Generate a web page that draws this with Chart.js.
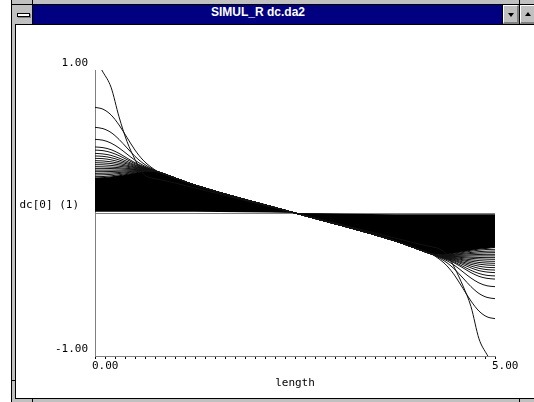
<!DOCTYPE html>
<html><head><meta charset="utf-8">
<script src="https://cdn.jsdelivr.net/npm/chart.js@4"></script>
<style>
html,body{margin:0;padding:0;background:#fff;}
body{width:534px;height:402px;position:relative;overflow:hidden;}
.a{position:absolute;}
</style></head><body>
<!-- window frame -->
<div class="a" style="left:11px;top:-2px;width:600px;height:420px;background:#c0c0c0;border-left:1px solid #000;"></div>
<div class="a" style="left:11px;top:4px;width:600px;height:1px;background:#000"></div>
<div class="a" style="left:32px;top:0;width:1px;height:5px;background:#000"></div>
<div class="a" style="left:519px;top:0;width:1px;height:5px;background:#000"></div>
<div class="a" style="left:11px;top:380px;width:5px;height:1px;background:#000"></div>
<div class="a" style="left:32px;top:398px;width:1px;height:5px;background:#000"></div>
<div class="a" style="left:519px;top:398px;width:1px;height:5px;background:#000"></div>
<!-- client area -->
<div class="a" style="left:15px;top:24px;width:600px;height:375px;box-sizing:border-box;border:1px solid #000;background:#fff"></div>
<!-- control box -->
<div class="a" style="left:32px;top:4px;width:1px;height:21px;background:#000"></div>
<div class="a" style="left:17px;top:13px;width:13px;height:4px;box-sizing:border-box;border:1px solid #000;background:#fff;box-shadow:1px 1px 0 #808080"></div>
<!-- title bar -->
<div class="a" style="left:33px;top:5px;width:469px;height:19px;background:#000080"></div>
<div class="a" style="left:211px;top:5px;height:19px;line-height:19px;color:#fff;font:bold 12px 'Liberation Sans',Arial,sans-serif;white-space:nowrap">SIMUL_R dc.da2</div>
<div class="a" style="left:502px;top:4px;width:1px;height:21px;background:#000"></div>
<div class="a" style="left:503px;top:5px;width:16px;height:19px;box-sizing:border-box;background:#c0c0c0;border-top:1px solid #fff;border-left:1px solid #fff;border-right:2px solid #808080;border-bottom:2px solid #808080"></div>
<div class="a" style="left:508px;top:13px;width:0;height:0;border-left:3px solid transparent;border-right:3px solid transparent;border-top:4px solid #000"></div>
<div class="a" style="left:519px;top:4px;width:1px;height:21px;background:#000"></div>
<div class="a" style="left:520px;top:5px;width:20px;height:19px;box-sizing:border-box;background:#c0c0c0;border-top:1px solid #fff;border-left:1px solid #fff;border-right:2px solid #808080;border-bottom:2px solid #808080"></div>
<div class="a" style="left:525px;top:12px;width:0;height:0;border-left:3px solid transparent;border-right:3px solid transparent;border-bottom:4px solid #000"></div>

<canvas id="c" width="534" height="402" style="position:absolute;left:0;top:0;"></canvas>
<script>
// ---- data ----
const lengths = [0, 0.1, 0.2, 0.3, 0.4, 0.5, 0.6, 0.7, 0.8, 1.0, 1.25, 2.5, 3.75, 4.0, 4.2, 4.3, 4.4, 4.5, 4.6, 4.7, 4.8, 4.9, 5.0];

const steepCurve = [1.08, 0.985, 0.88, 0.673, 0.50, 0.375, 0.275, 0.245, 0.235, 0.21, 0.175, 0, -0.175, -0.21, -0.235, -0.25, -0.29, -0.39, -0.51, -0.655, -0.88, -0.99, -1.08];
const curve01 = [0.739, 0.726, 0.686, 0.616, 0.528, 0.440, 0.370, 0.321, 0.285, 0.245, 0.195, 0, -0.195, -0.245, -0.285, -0.321, -0.370, -0.440, -0.528, -0.616, -0.686, -0.726, -0.739];
const curve02 = [0.599, 0.590, 0.563, 0.515, 0.455, 0.396, 0.348, 0.313, 0.285, 0.245, 0.195, 0, -0.195, -0.245, -0.285, -0.313, -0.348, -0.396, -0.455, -0.515, -0.563, -0.590, -0.599];
const curve03 = [0.515, 0.509, 0.489, 0.455, 0.412, 0.369, 0.334, 0.308, 0.285, 0.245, 0.195, 0, -0.195, -0.245, -0.285, -0.308, -0.334, -0.369, -0.412, -0.455, -0.489, -0.509, -0.515];
const curve04 = [0.462, 0.457, 0.443, 0.417, 0.384, 0.352, 0.326, 0.305, 0.285, 0.245, 0.195, 0, -0.195, -0.245, -0.285, -0.305, -0.326, -0.352, -0.384, -0.417, -0.443, -0.457, -0.462];
const curve05 = [0.440, 0.436, 0.423, 0.401, 0.373, 0.345, 0.322, 0.303, 0.285, 0.245, 0.195, 0, -0.195, -0.245, -0.285, -0.303, -0.322, -0.345, -0.373, -0.401, -0.423, -0.436, -0.440];
const curve06 = [0.417, 0.413, 0.403, 0.384, 0.361, 0.337, 0.319, 0.302, 0.285, 0.245, 0.195, 0, -0.195, -0.245, -0.285, -0.302, -0.319, -0.337, -0.361, -0.384, -0.403, -0.413, -0.417];
const curve07 = [0.399, 0.396, 0.387, 0.371, 0.351, 0.332, 0.316, 0.301, 0.285, 0.245, 0.195, 0, -0.195, -0.245, -0.285, -0.301, -0.316, -0.332, -0.351, -0.371, -0.387, -0.396, -0.399];
const curve08 = [0.382, 0.380, 0.372, 0.359, 0.343, 0.326, 0.313, 0.300, 0.285, 0.245, 0.195, 0, -0.195, -0.245, -0.285, -0.300, -0.313, -0.326, -0.343, -0.359, -0.372, -0.380, -0.382];
const curve09 = [0.366, 0.364, 0.358, 0.348, 0.334, 0.321, 0.311, 0.299, 0.285, 0.245, 0.195, 0, -0.195, -0.245, -0.285, -0.299, -0.311, -0.321, -0.334, -0.348, -0.358, -0.364, -0.366];
const curve10 = [0.352, 0.350, 0.346, 0.337, 0.327, 0.317, 0.308, 0.298, 0.285, 0.245, 0.195, 0, -0.195, -0.245, -0.285, -0.298, -0.308, -0.317, -0.327, -0.337, -0.346, -0.350, -0.352];
const curve11 = [0.338, 0.337, 0.333, 0.327, 0.320, 0.312, 0.306, 0.297, 0.285, 0.245, 0.195, 0, -0.195, -0.245, -0.285, -0.297, -0.306, -0.312, -0.320, -0.327, -0.333, -0.337, -0.338];
const curve12 = [0.324, 0.323, 0.321, 0.317, 0.312, 0.308, 0.304, 0.296, 0.285, 0.245, 0.195, 0, -0.195, -0.245, -0.285, -0.296, -0.304, -0.308, -0.312, -0.317, -0.321, -0.323, -0.324];
const curve13 = [0.312, 0.312, 0.311, 0.309, 0.306, 0.304, 0.302, 0.296, 0.285, 0.245, 0.195, 0, -0.195, -0.245, -0.285, -0.296, -0.302, -0.304, -0.306, -0.309, -0.311, -0.312, -0.312];
const curve14 = [0.300, 0.300, 0.300, 0.300, 0.300, 0.300, 0.300, 0.295, 0.285, 0.245, 0.195, 0, -0.195, -0.245, -0.285, -0.295, -0.300, -0.300, -0.300, -0.300, -0.300, -0.300, -0.300];
const curve15 = [0.289, 0.289, 0.290, 0.292, 0.294, 0.296, 0.298, 0.294, 0.285, 0.245, 0.195, 0, -0.195, -0.245, -0.285, -0.294, -0.298, -0.296, -0.294, -0.292, -0.290, -0.289, -0.289];
const curve16 = [0.277, 0.278, 0.280, 0.283, 0.288, 0.293, 0.296, 0.294, 0.285, 0.245, 0.195, 0, -0.195, -0.245, -0.285, -0.294, -0.296, -0.293, -0.288, -0.283, -0.280, -0.278, -0.277];
const curve17 = [0.266, 0.267, 0.270, 0.276, 0.282, 0.289, 0.295, 0.293, 0.285, 0.245, 0.195, 0, -0.195, -0.245, -0.285, -0.293, -0.295, -0.289, -0.282, -0.276, -0.270, -0.267, -0.266];
const curve18 = [0.254, 0.255, 0.260, 0.267, 0.276, 0.285, 0.293, 0.292, 0.285, 0.245, 0.195, 0, -0.195, -0.245, -0.285, -0.292, -0.293, -0.285, -0.276, -0.267, -0.260, -0.255, -0.254];

// edge of the solid black band (dense late-time curves) and its inner limit next to zero
const bandEdge  = [0.245, 0.247, 0.252, 0.260, 0.270, 0.280, 0.289, 0.291, 0.285, 0.245, 0.195, 0, -0.195, -0.245, -0.285, -0.291, -0.289, -0.280, -0.270, -0.260, -0.252, -0.247, -0.240];
const bandFloor = [0.008, 0.008, 0.008, 0.008, 0.008, 0.008, 0.008, 0.008, 0.008, 0.008, 0.008, 0, -0.008, -0.008, -0.008, -0.008, -0.008, -0.008, -0.008, -0.008, -0.008, -0.008, -0.008];

const xTitle = 'length';
const yTitle = 'dc[0] (1)';

// ---- chart ----
Chart.defaults.font.family = '"DejaVu Sans Mono", monospace';
Chart.defaults.font.size = 11;
Chart.defaults.color = '#000';

const pts = arr => lengths.map((x, i) => ({x: x, y: arr[i]}));
const thin = [steepCurve, curve01, curve02, curve03, curve04, curve05, curve06, curve07, curve08, curve09,
              curve10, curve11, curve12, curve13, curve14, curve15, curve16, curve17, curve18];

const datasets = thin.map(arr => ({
  data: pts(arr), borderColor: '#111', borderWidth: 1, pointRadius: 0,
  fill: false, cubicInterpolationMode: 'monotone'
}));
datasets.push({data: pts(bandFloor), borderWidth: 0, borderColor: 'rgba(0,0,0,0)', pointRadius: 0, fill: false, cubicInterpolationMode: 'monotone'});
datasets.push({data: pts(bandEdge), borderColor: '#000', borderWidth: 1, backgroundColor: '#000', pointRadius: 0, fill: '-1', cubicInterpolationMode: 'monotone'});

const yLabelPlugin = {
  id: 'yLabel',
  afterDraw(chart) {
    const {ctx, chartArea, scales} = chart;
    ctx.save();
    ctx.font = '11px "DejaVu Sans Mono", monospace';
    ctx.fillStyle = '#000';
    ctx.textAlign = 'right';
    ctx.textBaseline = 'middle';
    ctx.fillText(yTitle, chartArea.left - 16, scales.y.getPixelForValue(0) - 8);
    ctx.restore();
  }
};

new Chart(document.getElementById('c'), {
  type: 'line',
  data: {datasets},
  options: {
    responsive: false, animation: false, events: [],
    layout: {padding: {top: 70, right: 39, left: 0, bottom: 0}},
    plugins: {legend: {display: false}, tooltip: {enabled: false}},
    scales: {
      x: {
        type: 'linear', min: 0, max: 5,
        afterFit(s) { s.height = 46; },
        border: {display: true, color: '#808080', width: 1},
        grid: {drawOnChartArea: false, drawTicks: true, tickLength: 3, color: '#000'},
        ticks: {stepSize: 0.125, maxTicksLimit: 100, autoSkip: false, maxRotation: 0, minRotation: 0,
                align: 'start', labelOffset: -3, padding: 1,
                callback: v => (v === 0 || v === 5) ? v.toFixed(2) : ''},
        title: {display: true, text: xTitle, padding: {top: 0, bottom: 12}}
      },
      y: {
        min: -1, max: 1,
        afterFit(s) { s.width = 95; },
        border: {display: true, color: '#808080', width: 1},
        grid: {drawTicks: false, color: c => (c.tick && c.tick.value === 0) ? '#808080' : 'rgba(0,0,0,0)'},
        ticks: {stepSize: 1, padding: 7, labelOffset: -7, callback: v => v === 0 ? '' : v.toFixed(2)}
      }
    }
  },
  plugins: [yLabelPlugin]
});
</script>
</body></html>
